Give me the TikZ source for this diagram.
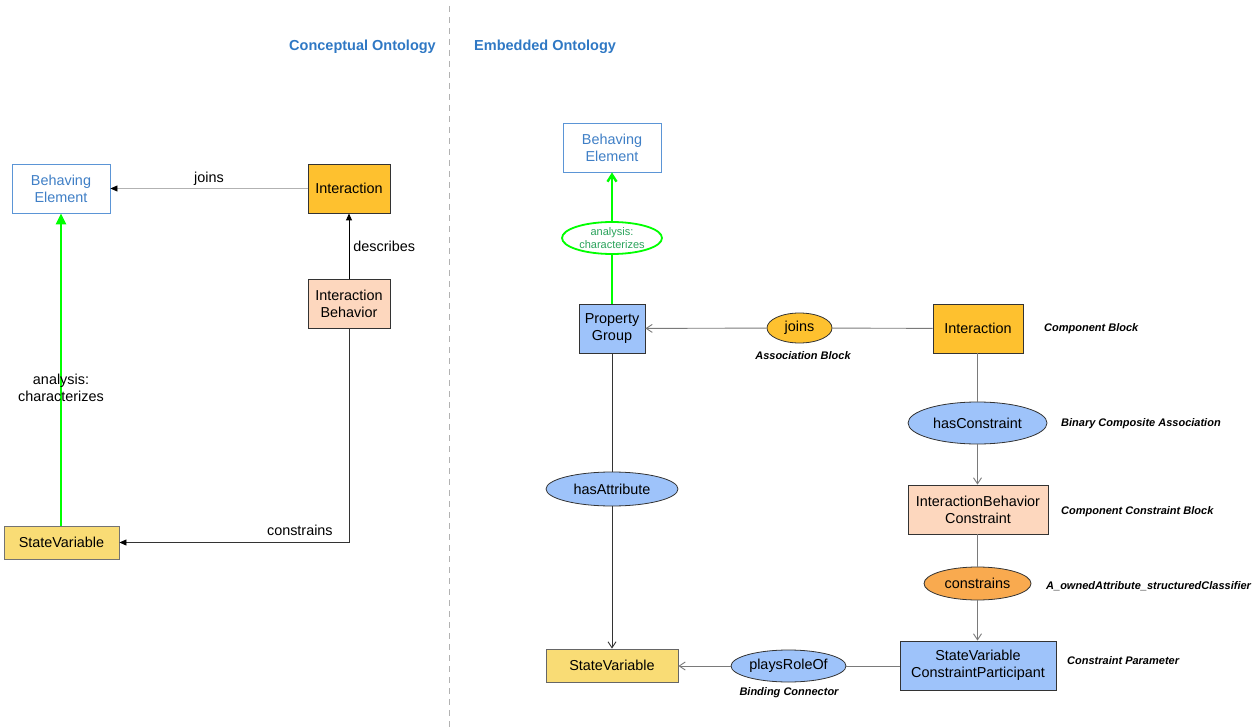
\documentclass[tikz,border=0pt]{standalone}
\usepackage{fontspec}
\setmainfont{Liberation Sans}
\usetikzlibrary{shapes.geometric,arrows.meta}
\definecolor{ctitle}{HTML}{2F78C4}
\definecolor{beline}{HTML}{5B95D6}
\definecolor{betext}{HTML}{3F7FC6}
\definecolor{cinter}{HTML}{FEC12F}
\definecolor{cpeach}{HTML}{FDD7BE}
\definecolor{cyellow}{HTML}{F9DC75}
\definecolor{cblue}{HTML}{9EC3FA}
\definecolor{corange}{HTML}{F9AA4F}
\definecolor{cgreen}{HTML}{00FF00}
\definecolor{cgtext}{HTML}{2AA35B}
\definecolor{cborder}{HTML}{333333}
\definecolor{cline}{HTML}{7A7A7A}
\tikzset{
  txt/.style={font=\fontsize{14.4}{17}\selectfont, align=center},
  box/.style={txt, draw=cborder, line width=0.9pt, inner sep=0pt, rectangle},
  bebox/.style={txt, draw=beline, line width=0.9pt, fill=white, text=betext, inner sep=0pt,
    minimum width=98pt, minimum height=49pt},
  oval/.style={txt, ellipse, draw=cborder, line width=0.8pt, inner sep=0pt},
  note/.style={font=\fontsize{11}{13}\selectfont\bfseries\itshape, inner sep=0pt},
  title/.style={font=\fontsize{14.5}{17}\selectfont\bfseries, text=ctitle, inner sep=0pt},
  link/.style={draw=cline, line width=0.9pt},
  solidtip/.style={-{Triangle[length=7pt,width=6pt,color=black]}},
  opentip/.style={-{Straight Barb[length=6pt,width=8pt]}},
  greenlink/.style={draw=cgreen, line width=2.6pt},
}
\begin{document}
\begin{tikzpicture}[x=1pt,y=-1pt]
\useasboundingbox (0,0) rectangle (1260,727);

% divider between the two ontologies
\draw[draw=black!30, line width=0.9pt, dash pattern=on 6pt off 5pt] (449,6) -- (449,727);
\node[title, anchor=east] (t1) at (436,47) {Conceptual Ontology};
\node[title, anchor=west] (t2) at (474,47) {Embedded Ontology};

% ---- conceptual ontology ----
\node[bebox] (be1) at (61,188.5) {Behaving\\Element};
\node[box, fill=cinter, minimum width=82pt, minimum height=49pt] (int1) at (349,188.5) {Interaction};
\node[box, fill=cpeach, minimum width=82pt, minimum height=49pt] (ib1) at (349,303.5) {Interaction\\Behavior};
\node[box, fill=cyellow, draw=black!55, minimum width=115pt, minimum height=33pt] (sv1) at (61.5,542.5) {StateVariable};

\draw[link, draw=black!30, solidtip] (int1) -- node[txt, above=3pt, inner sep=0pt] (lj1) {joins} (be1);
\draw[line width=0.9pt, solidtip] (ib1) -- node[txt, right=4pt, inner sep=0pt] (ld1) {describes} (int1);
\draw[line width=0.9pt, draw=black!80, solidtip] (ib1.south) |- node[txt, pos=0.607, above=6pt, inner sep=0pt] (lc1) {constrains} (sv1.east);
\draw[greenlink, -{Triangle[length=11pt,width=10pt]}] (sv1.north -| be1) -- node[txt, pos=0.44, inner sep=0pt] (la1) {analysis:\\characterizes} (be1);

% ---- embedded ontology ----
\node[bebox] (be2) at (612,147.5) {Behaving\\Element};
\node[box, fill=cblue, minimum width=66pt, minimum height=49pt] (pg) at (612,328.5) {Property\\Group};
\node[oval, draw=cgreen, line width=1.8pt, fill=white, text=cgtext, font=\fontsize{11}{13}\selectfont,
      minimum width=100pt, minimum height=32pt] (ac) at (612,238) {analysis:\\characterizes};
\node[oval, fill=cinter, minimum width=65pt, minimum height=30pt] (jn) at (799.5,328) {joins};
\node[box, fill=cinter, minimum width=90pt, minimum height=49pt] (int2) at (978,328.5) {Interaction};
\node[oval, fill=cblue, minimum width=139pt, minimum height=42pt] (hc) at (977.5,423) {hasConstraint};
\node[box, fill=cpeach, minimum width=140pt, minimum height=49pt] (ibc) at (978,509.5) {InteractionBehavior\\Constraint};
\node[oval, fill=corange, minimum width=107pt, minimum height=33pt] (cn) at (977.5,583.5) {constrains};
\node[box, fill=cblue, minimum width=156pt, minimum height=49pt] (svcp) at (978,665.5) {StateVariable\\ConstraintParticipant};
\node[oval, fill=cblue, minimum width=115pt, minimum height=32pt] (pr) at (788.5,666) {playsRoleOf};
\node[box, fill=cyellow, draw=black!60, minimum width=132pt, minimum height=33pt] (sv2) at (612,665.5) {StateVariable};
\node[oval, fill=cblue, minimum width=132pt, minimum height=34pt] (ha) at (612,489) {hasAttribute};

\node[note] (nab) at (803,356) {Association Block};
\node[note, anchor=west] (ncb) at (1044,329) {Component Block};
\node[note, anchor=west] (nbc) at (1061,424) {Binary Composite Association};
\node[note, anchor=west] (ncc) at (1061,512) {Component Constraint Block};
\node[note, anchor=west] (noa) at (1046,586) {A\_ownedAttribute\_structuredClassifier};
\node[note, anchor=west] (ncp) at (1067,661) {Constraint Parameter};
\node[note] (nbd) at (789,693) {Binding Connector};

\draw[greenlink, line width=2.4pt] (pg) -- (ac);
\draw[greenlink, line width=2.4pt, -{Straight Barb[length=7pt,width=9pt]}] (ac) -- (be2);
\draw[link] (int2) -- (jn);
\draw[link, opentip] (jn) -- (pg);
\draw[link] (int2.south -| hc) -- (hc);
\draw[link, opentip] (hc) -- (ibc.north -| hc);
\draw[link] (ibc.south -| cn) -- (cn);
\draw[link, opentip] (cn) -- (svcp.north -| cn);
\draw[link] (svcp.west |- pr) -- (pr);
\draw[link, opentip] (pr) -- (sv2.east |- pr);
\draw[link, draw=black!80] (pg) -- (ha);
\draw[link, draw=black!80, opentip] (ha) -- (sv2);
\end{tikzpicture}
\end{document}
